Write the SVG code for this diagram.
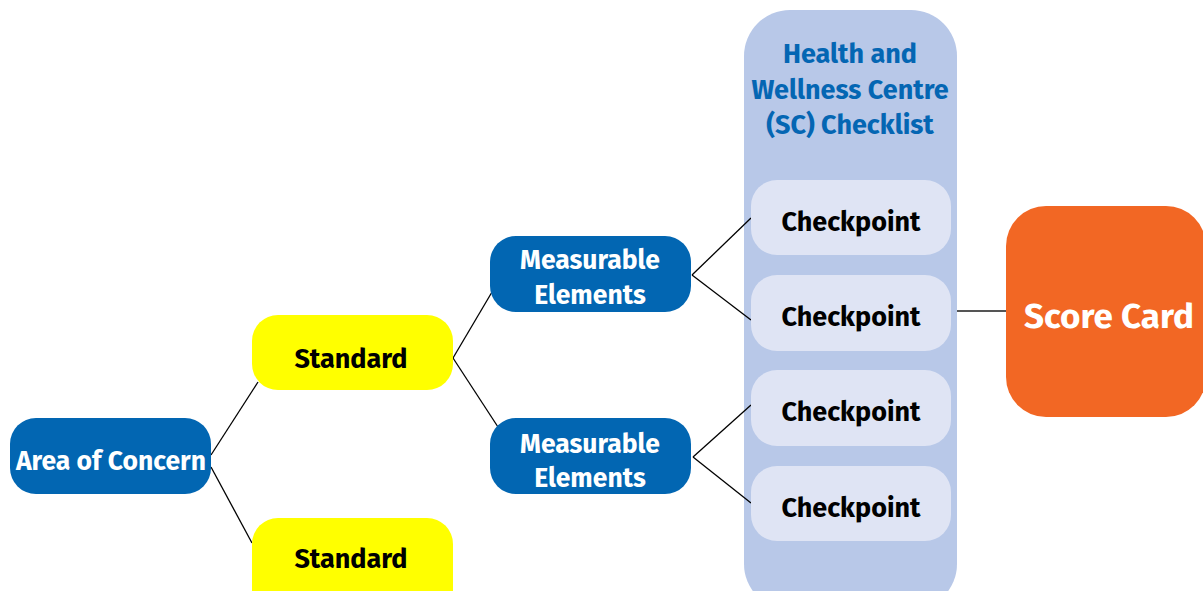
<svg xmlns="http://www.w3.org/2000/svg" width="1203" height="591" viewBox="0 0 1203 591">
<style>
text{font-family:"Fira Sans",Roboto,"Liberation Sans",sans-serif;font-weight:bold;text-anchor:middle}
.blue{fill:#0266B2}
.yel{fill:#FFFF00}
.wt{fill:#FFFFFF;font-size:26.5px}
.bk{fill:#000000;font-size:27px}
.cp{fill:#DFE4F4}
.ln{stroke:#000;stroke-width:1.3;fill:none}
</style>
<rect width="1203" height="591" fill="#FFFFFF"/>
<g id="checklist">
<rect x="744" y="10" width="213" height="600" rx="46" fill="#B8C8E8"/>
<text x="850" y="63" font-size="27" fill="#0466B3">Health and</text>
<text x="850" y="99" font-size="27" fill="#0466B3">Wellness Centre</text>
<text x="850" y="134" font-size="27" fill="#0466B3">(SC) Checklist</text>
</g>
<g id="connectors">
<line class="ln" x1="211" y1="455" x2="258" y2="382"/>
<line class="ln" x1="211" y1="467" x2="252" y2="543"/>
<line class="ln" x1="453" y1="358" x2="492" y2="292"/>
<line class="ln" x1="453" y1="358" x2="498" y2="427"/>
<line class="ln" x1="692" y1="275" x2="751" y2="218"/>
<line class="ln" x1="692" y1="275" x2="751" y2="320"/>
<line class="ln" x1="693" y1="457" x2="751" y2="405"/>
<line class="ln" x1="693" y1="457" x2="751" y2="503"/>
<line x1="957" y1="311" x2="1006" y2="311" stroke="#555" stroke-width="1.8"/>
</g>
<g id="area-of-concern">
<rect class="blue" x="10" y="418" width="201" height="76" rx="26"/>
<text class="wt" x="111" y="470">Area of Concern</text>
</g>
<g id="standard-1">
<rect class="yel" x="252" y="315" width="201" height="75" rx="26"/>
<text class="bk" x="351" y="368">Standard</text>
</g>
<g id="standard-2">
<rect class="yel" x="252" y="518" width="201" height="100" rx="26"/>
<text class="bk" x="351" y="568">Standard</text>
</g>
<g id="measurable-1">
<rect class="blue" x="490" y="236" width="201" height="76" rx="26"/>
<text class="wt" x="590" y="269" font-size="27">Measurable</text>
<text class="wt" x="590" y="304" font-size="27">Elements</text>
</g>
<g id="measurable-2">
<rect class="blue" x="490" y="418" width="201" height="76" rx="26"/>
<text class="wt" x="590" y="453">Measurable</text>
<text class="wt" x="590" y="487">Elements</text>
</g>
<g id="checkpoint-1">
<rect class="cp" x="751" y="180" width="200" height="75" rx="26"/>
<text class="bk" x="851" y="231">Checkpoint</text>
</g>
<g id="checkpoint-2">
<rect class="cp" x="751" y="275" width="200" height="76" rx="26"/>
<text class="bk" x="851" y="326">Checkpoint</text>
</g>
<g id="checkpoint-3">
<rect class="cp" x="751" y="370" width="200" height="76" rx="26"/>
<text class="bk" x="851" y="421">Checkpoint</text>
</g>
<g id="checkpoint-4">
<rect class="cp" x="751" y="466" width="200" height="75" rx="26"/>
<text class="bk" x="851" y="517">Checkpoint</text>
</g>
<g id="score-card">
<rect x="1006" y="206" width="200" height="211" rx="40" fill="#F26724"/>
<text x="1109" y="328" font-size="35" fill="#FFFFFF">Score Card</text>
</g>
</svg>
